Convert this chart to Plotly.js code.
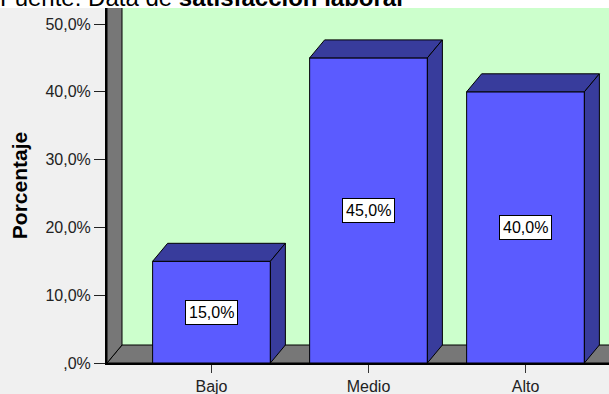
<!DOCTYPE html>
<html>
<head>
<meta charset="utf-8">
<script src="https://cdn.plot.ly/plotly-3.0.1.min.js"></script>
<style>
  html, body { margin: 0; padding: 0; background: #f0f0f0; }
  #chart { width: 609px; height: 394px; }
</style>
</head>
<body>
<div id="chart"></div>
<script>
// ---- data ----
var categories = ['Bajo', 'Medio', 'Alto'];
var percentages = [15.0, 45.0, 40.0];
var yTickValues = [0, 10, 20, 30, 40, 50];
var yTickLabels = [',0%', '10,0%', '20,0%', '30,0%', '40,0%', '50,0%'];
var yAxisTitle = 'Porcentaje';
var sourceNote = 'Fuente: Data de <b>satisfacción laboral</b>';

// ---- style / geometry ----
var FONT = 'Liberation Sans, Arial, sans-serif';
var W = 609, H = 394;
var M = {l: 107, r: 0, t: 8, b: 31};
var plotW = W - M.l - M.r, plotH = H - M.t - M.b;
var xRange = [-0.6656, 2.5318];
var yRange = [0, 52.36];
var pxPerX = plotW / (xRange[1] - xRange[0]);
var pxPerY = plotH / (yRange[1] - yRange[0]);
var depthX = 15 / pxPerX;
var depthY = 18 / pxPerY;
var barW = 0.75;
var frontColor = '#5b5bff';
var sideColor = '#383c9c';
var wallGray = '#777777';
var backGreen = '#ccffcc';

var xIdx = categories.map(function (c, i) { return i; });

function fmtPct(v) { return v.toFixed(1).replace('.', ',') + '%'; }

var traces = [];
traces.push({
  type: 'bar',
  x: xIdx,
  y: percentages,
  width: barW,
  marker: {color: frontColor, line: {color: '#000', width: 1}},
  hoverinfo: 'skip',
  showlegend: false
});

xIdx.forEach(function (i) {
  var v = percentages[i];
  var l = i - barW / 2, r = i + barW / 2;
  // top face
  traces.push({
    type: 'scatter', mode: 'lines', fill: 'toself',
    x: [l, l + depthX, r + depthX, r, l],
    y: [v, v + depthY, v + depthY, v, v],
    fillcolor: sideColor, line: {color: '#000', width: 1},
    hoverinfo: 'skip', showlegend: false
  });
  // side face
  traces.push({
    type: 'scatter', mode: 'lines', fill: 'toself',
    x: [r, r + depthX, r + depthX, r, r],
    y: [0, depthY, v + depthY, v, 0],
    fillcolor: sideColor, line: {color: '#000', width: 1},
    hoverinfo: 'skip', showlegend: false
  });
});

var x0 = xRange[0], x1 = xRange[1] + 0.2, yTop = yRange[1] + 2;
var shapes = [
  // floor
  {type: 'path', xref: 'x', yref: 'y', layer: 'below',
   path: 'M' + x0 + ',0 L' + (x0 + depthX) + ',' + depthY + ' L' + x1 + ',' + depthY + ' L' + x1 + ',0 Z',
   fillcolor: wallGray, line: {color: '#000', width: 1}},
  // left wall
  {type: 'path', xref: 'x', yref: 'y', layer: 'below',
   path: 'M' + x0 + ',0 L' + x0 + ',' + yTop + ' L' + (x0 + depthX) + ',' + yTop + ' L' + (x0 + depthX) + ',' + depthY + ' Z',
   fillcolor: wallGray, line: {color: '#000', width: 1}},
  // white strip behind the source note
  {type: 'rect', xref: 'paper', yref: 'paper', layer: 'below',
   x0: -M.l / plotW - 0.01, x1: 1.01, y0: 1, y1: 1 + 20 / plotH,
   fillcolor: '#ffffff', line: {width: 0}}
];

var annotations = xIdx.map(function (i) {
  return {
    x: i, y: percentages[i] / 2, xref: 'x', yref: 'y',
    text: fmtPct(percentages[i]), showarrow: false,
    bgcolor: '#ffffff', bordercolor: '#000', borderwidth: 1, borderpad: 3,
    font: {family: FONT, size: 16, color: '#000'}
  };
});
annotations.push({
  xref: 'paper', yref: 'paper', x: 0, y: 1, xanchor: 'left', yanchor: 'bottom',
  xshift: -M.l - 2, yshift: -5, showarrow: false, align: 'left',
  text: sourceNote, font: {family: FONT, size: 24, color: '#000'}
});

var layout = {
  width: W, height: H,
  margin: M,
  paper_bgcolor: '#f0f0f0',
  plot_bgcolor: backGreen,
  showlegend: false,
  bargap: 0.25,
  xaxis: {
    range: xRange, tickvals: xIdx, ticktext: categories,
    showgrid: false, zeroline: false,
    showline: true, linecolor: '#000', linewidth: 1.5,
    ticks: 'outside', ticklen: 8, tickcolor: '#333', tickwidth: 1,
    tickfont: {family: FONT, size: 16, color: '#222'}
  },
  yaxis: {
    range: yRange, tickvals: yTickValues, ticktext: yTickLabels,
    showgrid: false, zeroline: false,
    showline: true, linecolor: '#000', linewidth: 2,
    ticks: 'outside', ticklen: 11, tickcolor: '#222', tickwidth: 1,
    tickfont: {family: FONT, size: 16, color: '#222'},
    title: {text: yAxisTitle, font: {family: FONT, size: 21, color: '#000', weight: 'bold'}, standoff: 12}
  },
  shapes: shapes,
  annotations: annotations
};

Plotly.newPlot('chart', traces, layout, {staticPlot: true, displayModeBar: false});
</script>
</body>
</html>
